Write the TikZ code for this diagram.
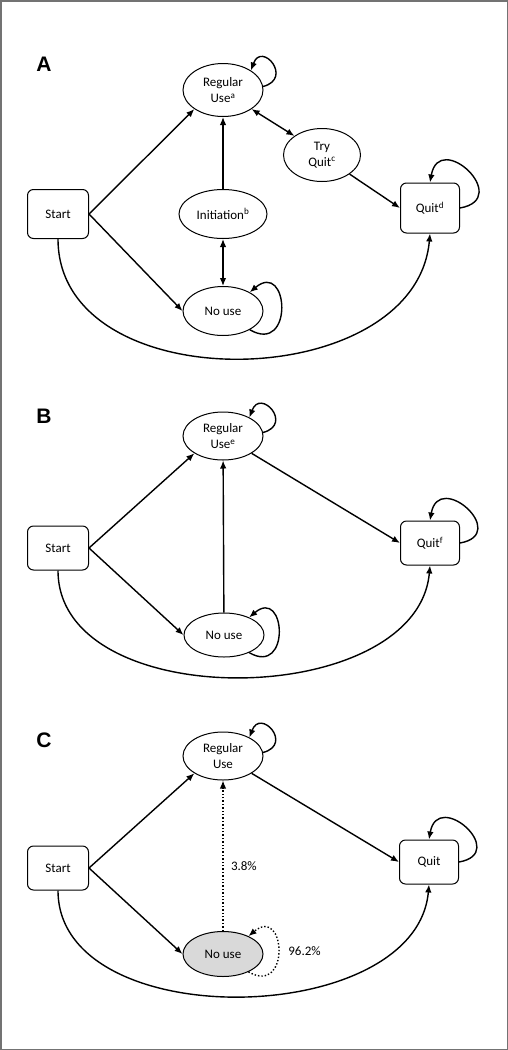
\documentclass[tikz,border=0pt]{standalone}
\usepackage{fontspec}
\setmainfont{Carlito}
\newfontfamily\panelfont{Liberation Sans}
\usetikzlibrary{positioning, arrows.meta, shapes}

\begin{document}
\begin{tikzpicture}[
        x=1pt, y=1pt,
        on grid,
        font=\fontsize{13}{16}\selectfont,
        box/.style={draw, line width=1pt, rounded corners=6pt, minimum width=61pt, minimum height=44pt, align=center},
        oval/.style={draw, ellipse, line width=1pt, minimum width=80pt, minimum height=48pt, inner sep=0pt, align=center},
        arrow/.style={draw, line width=1.4pt, -{Latex[length=8pt, width=6.5pt]}},
        both/.style={arrow, {Latex[length=8pt, width=6.5pt]}-{Latex[length=8pt, width=6.5pt]}},
        panel/.style={font=\panelfont\bfseries\fontsize{21}{21}\selectfont}
    ]

    % Rahmen
    \useasboundingbox (0,0) rectangle (508,-1050);
    \draw[black!55, line width=1.5pt] (0.75,-0.75) rectangle (507.25,-1049.25);

    % Teil A
    \node (labelA) [panel] at (44,-64) {A};
    \node (startA) [box, minimum height=49pt] at (58,-214) {Start};
    \node (regA) [oval, minimum height=53pt, above right=124pt and 165pt of startA] {Regular\\Use\textsuperscript{a}};
    \node (tryA) [oval, minimum width=77pt, minimum height=53pt, below right=65pt and 99pt of regA] {Try\\Quit\textsuperscript{c}};
    \node (iniA) [oval, minimum width=88pt, minimum height=49pt, right=165pt of startA] {Initiation\textsuperscript{b}};
    \node (noA) [oval, minimum height=49pt, below=97pt of iniA] {No use};
    \node (quitA) [box, minimum width=59pt, minimum height=50pt, above right=6pt and 207pt of iniA] {Quit\textsuperscript{d}};

    \draw[arrow] (startA.east) -- (regA.south west);
    \draw[arrow] (startA.east) -- (noA.west);
    \draw[arrow] (iniA) -- (regA);
    \draw[both] (iniA) -- (noA);
    \draw[both] (regA.south east) -- (tryA.north west);
    \draw[arrow] (tryA.south east) -- (quitA.west);
    \draw[arrow] (startA.south) to[out=-90, in=-95, looseness=1.12] (quitA.south);
    \draw[arrow] (regA.5) to[out=15, in=70, looseness=4] (regA.35);
    \draw[arrow] (noA.-35) to[out=-30, in=40, looseness=3.5] (noA.35);
    \draw[arrow] (quitA.east) to[out=10, in=80, looseness=3.5] (quitA.north);

    % Teil B
    \node (labelB) [panel] at (44,-416) {B};
    \node (startB) [box] at (58,-548) {Start};
    \node (regB) [oval, above right=112pt and 165pt of startB] {Regular\\Use\textsuperscript{e}};
    \node (noB) [oval, minimum height=44pt, below right=87pt and 166pt of startB] {No use};
    \node (quitB) [box, minimum width=59pt, above right=5pt and 372pt of startB] {Quit\textsuperscript{f}};

    \draw[arrow] (startB.east) -- (regB.south west);
    \draw[arrow] (startB.east) -- (noB.west);
    \draw[arrow] (noB) -- (regB);
    \draw[arrow] (regB.south east) -- (quitB.west);
    \draw[arrow] (startB.south) to[out=-90, in=-95, looseness=1.0] (quitB.south);
    \draw[arrow] (regB.5) to[out=15, in=70, looseness=4] (regB.35);
    \draw[arrow] (noB.-35) to[out=-30, in=40, looseness=3.5] (noB.35);
    \draw[arrow] (quitB.east) to[out=10, in=80, looseness=3.5] (quitB.north);

    % Teil C
    \node (labelC) [panel] at (44,-740) {C};
    \node (startC) [box] at (58,-868) {Start};
    \node (regC) [oval, above right=112pt and 165pt of startC] {Regular\\Use};
    \node (noC) [oval, minimum height=45pt, fill=black!15, below right=86pt and 165pt of startC] {No use};
    \node (quitC) [box, minimum width=59pt, above right=6pt and 371pt of startC] {Quit};

    \draw[arrow] (startC.east) -- (regC.south west);
    \draw[arrow] (startC.east) -- (noC.west);
    \draw[arrow, dotted] (noC) -- node[right=4pt, pos=0.43] {3.8\%} (regC);
    \draw[arrow] (regC.south east) -- (quitC.west);
    \draw[arrow] (startC.south) to[out=-90, in=-95, looseness=1.0] (quitC.south);
    \draw[arrow] (regC.5) to[out=15, in=70, looseness=4] (regC.35);
    \draw[arrow, dotted] (noC.-35) to[out=-30, in=40, looseness=3.5] node[right=6pt] {96.2\%} (noC.35);
    \draw[arrow] (quitC.east) to[out=10, in=80, looseness=3.5] (quitC.north);

\end{tikzpicture}
\end{document}
